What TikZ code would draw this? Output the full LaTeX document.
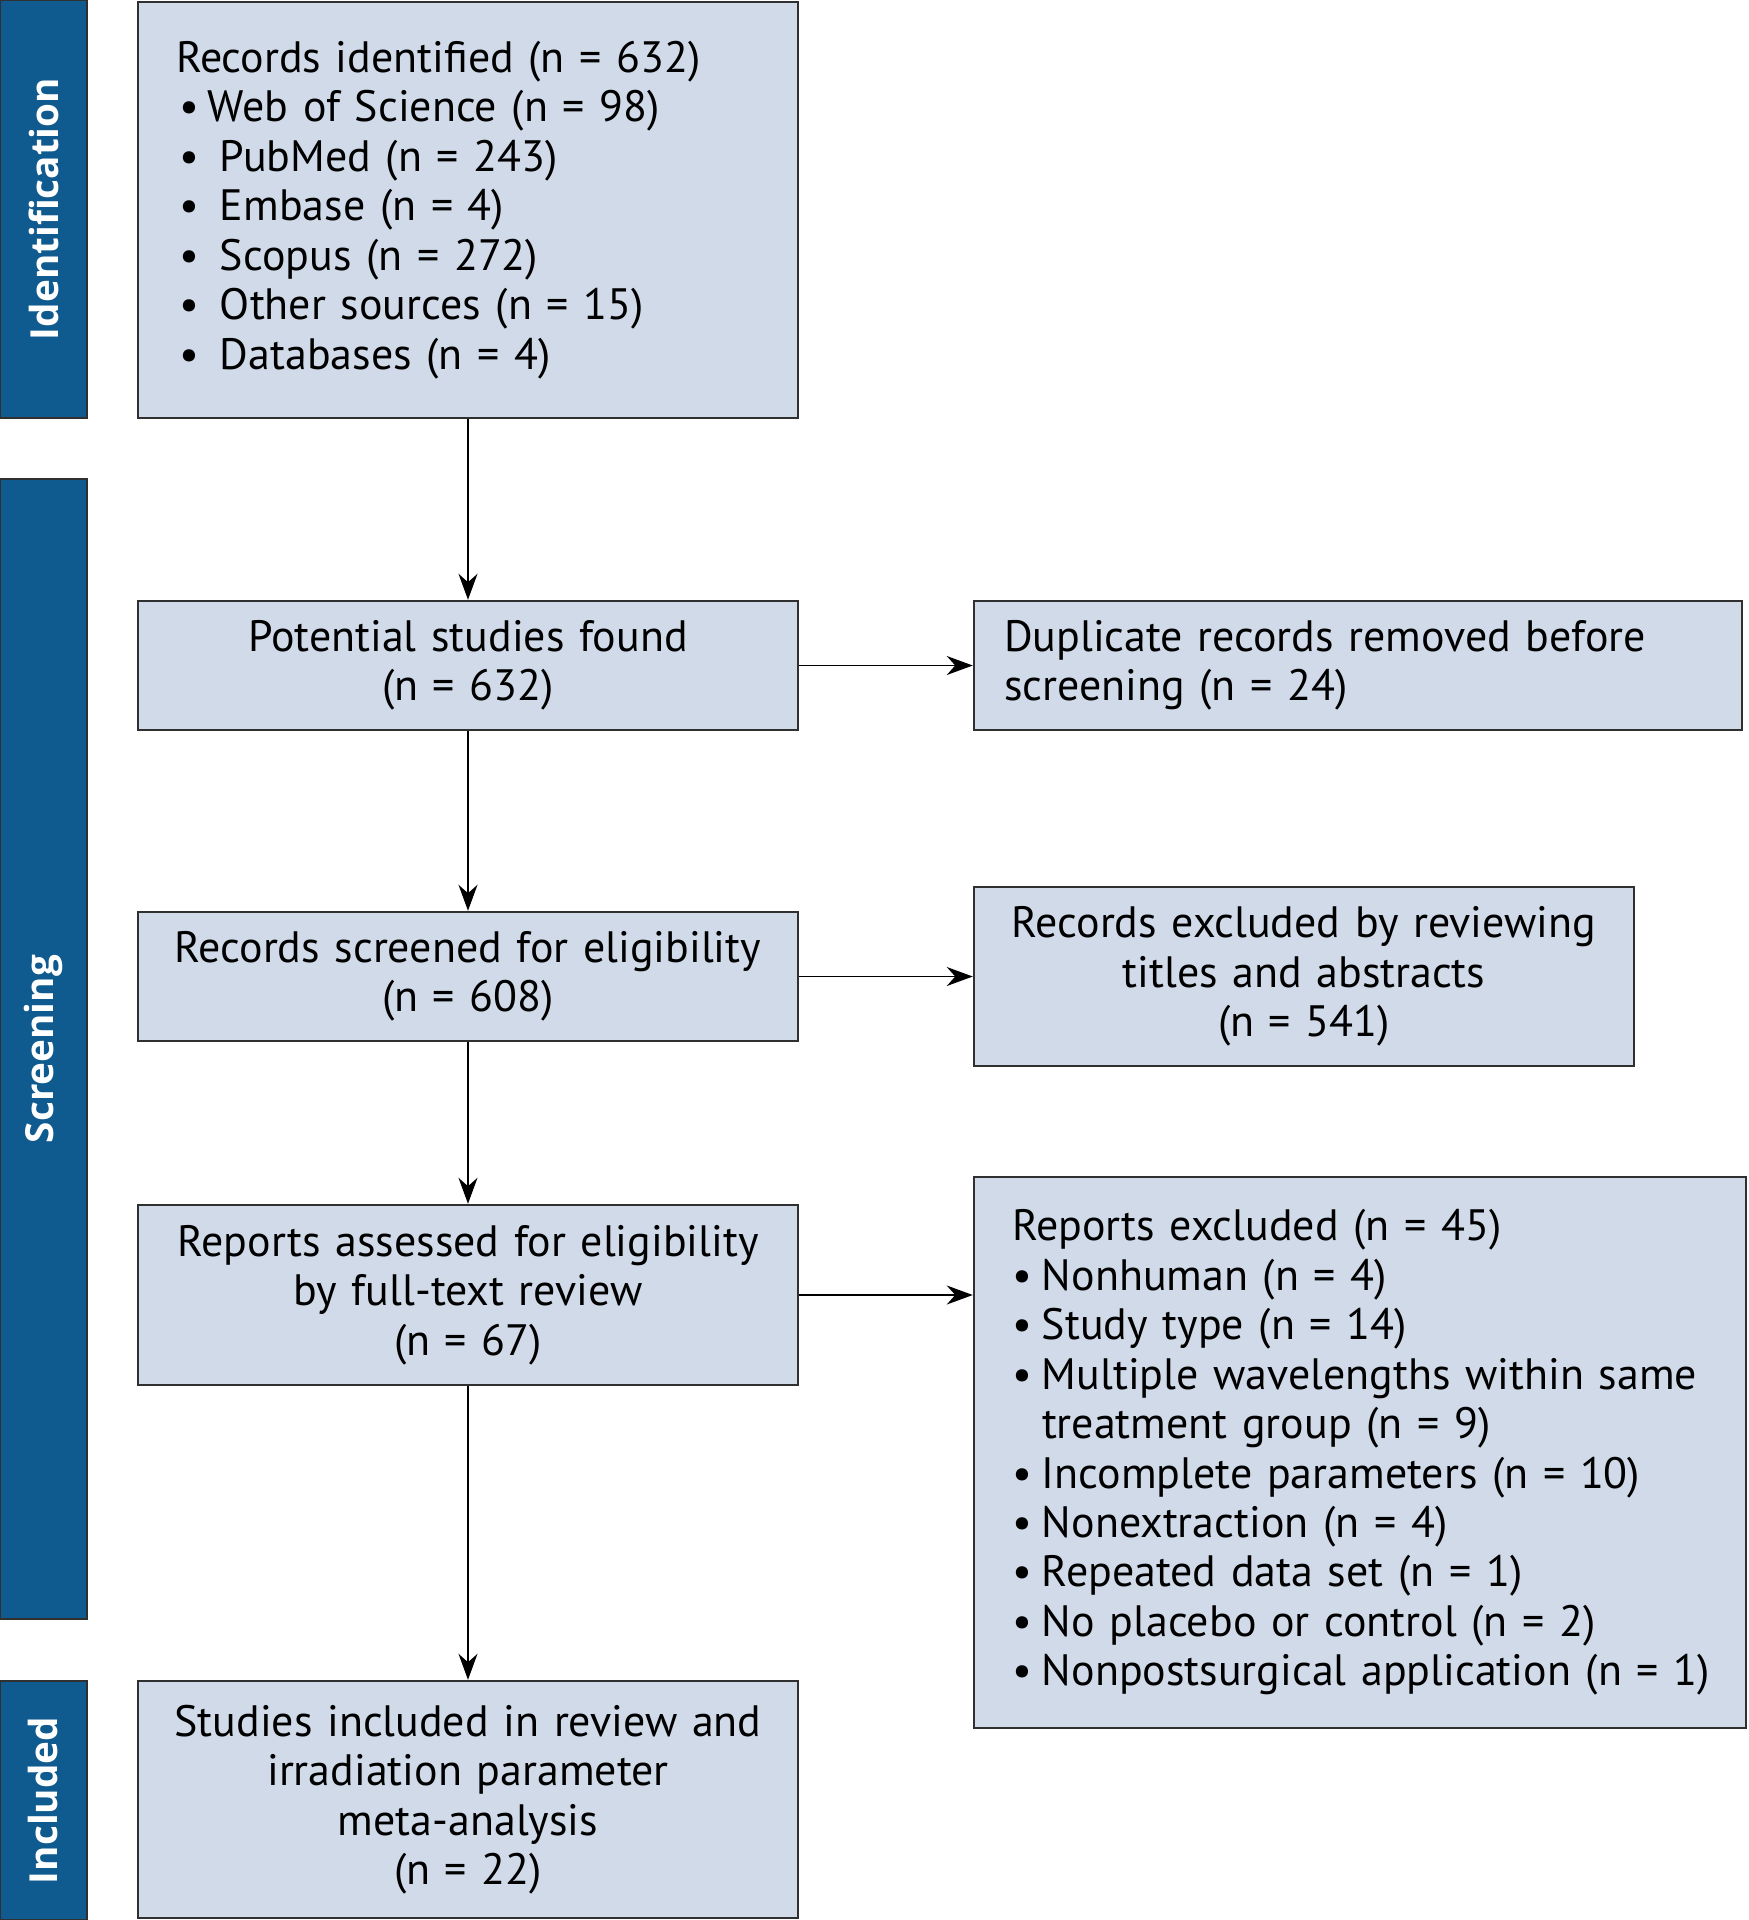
\documentclass[tikz,border=0pt]{standalone}
\usepackage{fontspec}
\setmainfont{PT Sans}
\newfontfamily\barfont{Open Sans}
\usetikzlibrary{arrows.meta}

\definecolor{barblue}{HTML}{0F5A8F}
\definecolor{boxfill}{HTML}{D0DAE8}
\definecolor{edgegray}{HTML}{303030}

\newcommand{\bul}[1]{\makebox[#1][l]{\textbullet}}

\begin{document}
\begin{tikzpicture}[
            x=0.1mm, y=-0.1mm,
            phase/.style = {
                draw=edgegray,
                fill=barblue,
                line width=0.6pt,
                rotate=90,
                inner sep=0pt,
                minimum height=8.7mm,
                text=white,
                font=\barfont\bfseries\fontsize{11}{13}\selectfont
            },
            box/.style = {
                draw=edgegray,
                fill=boxfill,
                line width=0.7pt,
                inner sep=0pt,
                align=center,
                font=\fontsize{12.5}{14.07}\selectfont
            },
            flow/.style = {
                line width=0.45pt,
                -{Stealth[length=2.6mm, width=1.9mm]}
            }
        ]
            \useasboundingbox (0,0) rectangle (1749,1920);

            % phase bars on the left
            \node[phase, minimum width=41.8mm] (ident) at (43.5,209) {Identification};
            \node[phase, minimum width=114mm] (screen) at (43.5,1049) {Screening};
            \node[phase, minimum width=23.9mm] (incl) at (43.5,1800.5) {Included};

            % main column
            \node[box, minimum width=66mm, minimum height=41.6mm, text width=58.4mm, align=left] (rec) at (468,210) {%
                Records identified (n = 632)\\
                \hspace*{0.3mm}\bul{2.9mm}Web of Science (n = 98)\\
                \hspace*{0.3mm}\bul{4.1mm}PubMed (n = 243)\\
                \hspace*{0.3mm}\bul{4.1mm}Embase (n = 4)\\
                \hspace*{0.3mm}\bul{4.1mm}Scopus (n = 272)\\
                \hspace*{0.3mm}\bul{4.1mm}Other sources (n = 15)\\
                \hspace*{0.3mm}\bul{4.1mm}Databases (n = 4)};
            \node[box, minimum width=66mm, minimum height=12.9mm, text width=62mm] (pot) at (468,665.5) {Potential studies found\\(n = 632)};
            \node[box, minimum width=66mm, minimum height=12.9mm, text width=62mm] (scr) at (468,976.5) {Records screened for eligibility\\(n = 608)};
            \node[box, minimum width=66mm, minimum height=18mm, text width=62mm] (rep) at (468,1295) {Reports assessed for eligibility\\by full-text review\\(n = 67)};
            \node[box, minimum width=66mm, minimum height=23.7mm, text width=62mm] (inc) at (468,1799.5) {Studies included in review and\\irradiation parameter\\meta-analysis\\(n = 22)};

            % exclusion column
            \node[box, minimum width=76.8mm, minimum height=12.9mm, text width=70.8mm, align=left] (dup) at (1358,665.5) {Duplicate records removed before\\screening (n = 24)};
            \node[box, minimum width=66mm, minimum height=17.9mm, text width=62mm] (exc) at (1304,976.5) {Records excluded by reviewing\\titles and abstracts\\(n = 541)};
            \node[box, minimum width=77.2mm, minimum height=55.1mm, text width=69.6mm, align=left] (rexc) at (1360,1452.5) {%
                Reports excluded (n = 45)\\
                \bul{3mm}Nonhuman (n = 4)\\
                \bul{3mm}Study type (n = 14)\\
                \bul{3mm}Multiple wavelengths within same\\
                \hspace*{3mm}treatment group (n = 9)\\
                \bul{3mm}Incomplete parameters (n = 10)\\
                \bul{3mm}Nonextraction (n = 4)\\
                \bul{3mm}Repeated data set (n = 1)\\
                \bul{3mm}No placebo or control (n = 2)\\
                \mbox{\bul{3mm}Nonpostsurgical application (n = 1)}};

            % connectors
            \draw[flow] (rec) -- (pot);
            \draw[flow] (pot) -- (scr);
            \draw[flow] (scr) -- (rep);
            \draw[flow] (rep) -- (inc);

            \draw[flow] (pot) -- (dup);
            \draw[flow] (scr) -- (exc);
            \draw[flow] (rep.east) -- (rep.east -| rexc.west);

        \end{tikzpicture}
\end{document}
